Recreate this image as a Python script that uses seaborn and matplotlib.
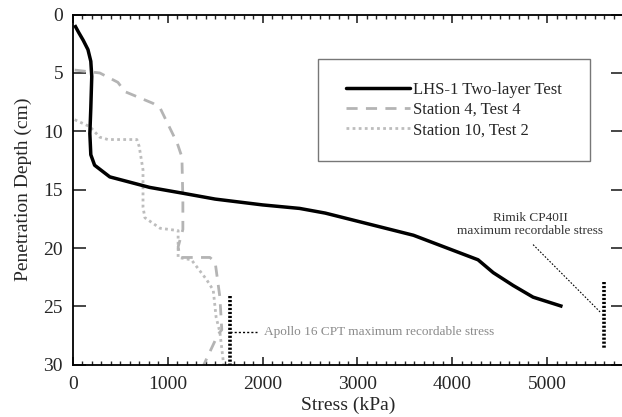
import matplotlib
matplotlib.use("Agg")
import matplotlib.pyplot as plt
import seaborn as sns
import pandas as pd
from matplotlib.lines import Line2D
from matplotlib.patches import Rectangle
from matplotlib.ticker import MultipleLocator

# ---- data ----
lhs_stress = [20, 60, 110, 160, 190, 200, 190, 180, 190, 230, 390, 810, 1160, 1500, 2000,
              2390, 2660, 3590, 4270, 4430, 4640, 4850, 5160]
lhs_depth = [0.9, 1.5, 2.2, 3.0, 4.0, 5.3, 8.0, 10.2, 12.0, 12.9, 13.9, 14.8, 15.3, 15.8, 16.3,
             16.6, 17.0, 18.9, 21.0, 22.1, 23.2, 24.2, 25.0]

st4_stress = [20, 285, 475, 550, 845, 920, 1100, 1150, 1160, 1160, 1110, 1130, 1445, 1500,
              1550, 1570, 1530, 1380]
st4_depth = [4.75, 5.0, 5.8, 6.6, 7.6, 8.0, 11.0, 12.2, 15.9, 18.4, 19.9, 20.8, 20.8, 21.2,
             24.2, 27.0, 27.4, 30.0]

st10_stress = [20, 180, 285, 370, 675, 700, 740, 740, 760, 920, 1110, 1110, 1250, 1410,
               1480, 1510, 1550, 1590]
st10_depth = [9.0, 9.6, 10.5, 10.7, 10.7, 11.3, 13.3, 16.5, 17.4, 18.3, 18.5, 20.8, 21.0, 22.7,
              23.6, 25.9, 27.2, 30.0]

series_labels = ["LHS-1 Two-layer Test", "Station 4, Test 4", "Station 10, Test 2"]

apollo_limit = 1656           # kPa
apollo_span = [24.1, 30.0]    # cm
rimik_limit = 5600            # kPa
rimik_span = [22.9, 28.6]     # cm

x_ticks = [0, 1000, 2000, 3000, 4000, 5000]
y_ticks = [0, 5, 10, 15, 20, 25, 30]

# ---- figure ----
sns.set_style("ticks")
plt.rcParams["font.family"] = ["Liberation Serif", "DejaVu Serif"]

fig = plt.figure(figsize=(6.22, 4.17), dpi=100)
ax = fig.add_axes([0.117, 0.125, 0.885, 0.84])

df_lhs = pd.DataFrame({"stress": lhs_stress, "depth": lhs_depth})
df_st4 = pd.DataFrame({"stress": st4_stress, "depth": st4_depth})
df_st10 = pd.DataFrame({"stress": st10_stress, "depth": st10_depth})

c_dash = "#b4b4b4"
c_dot = "#bdbdbd"

sns.lineplot(data=df_st10, x="stress", y="depth", sort=False, estimator=None, ax=ax,
             color=c_dot, linewidth=2.0, linestyle=(0, (1, 1.2)))
sns.lineplot(data=df_st4, x="stress", y="depth", sort=False, estimator=None, ax=ax,
             color=c_dash, linewidth=2.0, linestyle=(0, (4, 3)))
sns.lineplot(data=df_lhs, x="stress", y="depth", sort=False, estimator=None, ax=ax,
             color="black", linewidth=2.5, solid_capstyle="butt", solid_joinstyle="round")

# instrument limit markers
ax.plot([apollo_limit, apollo_limit], apollo_span, color="black", linewidth=2.6,
        linestyle=(0, (0.6, 0.5)), solid_capstyle="butt")
ax.plot([apollo_limit, apollo_limit + 290], [27.2, 27.2], color="black", linewidth=1.0,
        linestyle=(0, (1.5, 1.5)))
ax.text(apollo_limit + 360, 27.2, "Apollo 16 CPT maximum recordable stress",
        color="#8a8a8a", fontsize=9.5, va="center", ha="left")

ax.plot([rimik_limit, rimik_limit], rimik_span, color="black", linewidth=2.6,
        linestyle=(0, (0.6, 0.5)))
ax.plot([4850, 5560], [19.7, 25.5], color="black", linewidth=0.8,
        linestyle=(0, (1.5, 1.5)))
ax.text(4820, 18.0, "Rimik CP40II\nmaximum recordable stress", color="#333333",
        fontsize=9.5, ha="center", va="center", linespacing=1.15)

ax.set_xlim(0, 5800)
ax.set_ylim(30, 0)
ax.set_xticks(x_ticks)
ax.set_yticks(y_ticks)
ax.xaxis.set_minor_locator(MultipleLocator(100))
ax.tick_params(axis="x", which="major", direction="in", length=6, width=1.2,
               top=True, bottom=True, labelsize=14, pad=8)
ax.tick_params(axis="x", which="minor", direction="in", length=3, width=1.0,
               top=True, bottom=True)
ax.tick_params(axis="y", which="major", direction="in", length=9, width=1.2,
               left=True, right=True, labelsize=14, pad=7)
for s in ["left", "bottom", "top"]:
    ax.spines[s].set_linewidth(1.3)
    ax.spines[s].set_color("black")
ax.spines["right"].set_visible(False)

ax.set_xlabel("Stress (kPa)", fontsize=14, labelpad=3)
ax.set_ylabel("Penetration Depth (cm)", fontsize=14, labelpad=8)

# legend
handles = [Line2D([], [], color="black", linewidth=2.5),
           Line2D([], [], color=c_dash, linewidth=2.0, linestyle=(0, (4, 3))),
           Line2D([], [], color=c_dot, linewidth=2.0, linestyle=(0, (1, 1.2)))]
ax.add_patch(Rectangle((0.445, 0.582), 0.495, 0.291, transform=ax.transAxes,
                       fill=True, facecolor="white", edgecolor="#777777", linewidth=1.0,
                       zorder=4))
ax.legend(handles, series_labels, loc="center", bbox_to_anchor=(0.6925, 0.7275),
          frameon=False, fontsize=12, handlelength=3.8, handletextpad=0.2,
          labelspacing=0.25)

fig.savefig("out.png", dpi=100)
